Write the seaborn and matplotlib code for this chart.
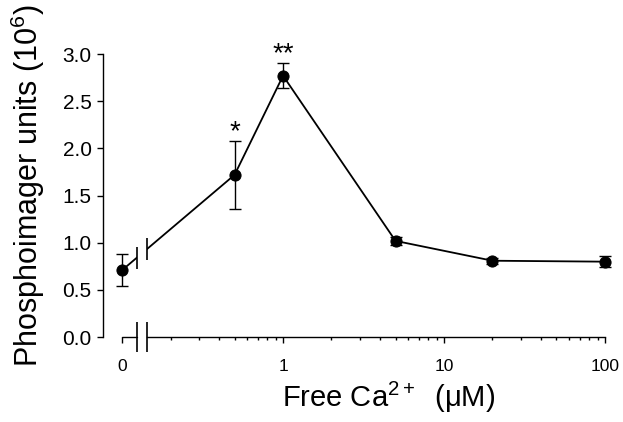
import numpy as np
import pandas as pd
import seaborn as sns
import matplotlib.pyplot as plt
from matplotlib.ticker import FixedLocator, LogLocator, NullFormatter, FormatStrFormatter

# free Ca2+ (uM); the 0 point is drawn at the left end of the log axis
ca_um = [0, 0.5, 1, 5, 20, 100]
units = [0.71, 1.72, 2.77, 1.02, 0.81, 0.80]   # phosphoimager units (10^6)
sem = [0.17, 0.36, 0.13, 0.04, 0.03, 0.06]
stars = ["", "*", "**", "", "", ""]

x_ticks = [0.1, 1, 10, 100]
x_ticklabels = ["0", "1", "10", "100"]
y_ticks = [0.0, 0.5, 1.0, 1.5, 2.0, 2.5, 3.0]

zero_pos = 0.1            # where "0" sits on the log axis
break_lo, break_hi = 0.123, 0.142

sns.set_style("ticks", {"text.color": "black", "axes.labelcolor": "black",
                        "xtick.color": "black", "ytick.color": "black"})
plt.rcParams["font.family"] = ["Liberation Sans", "DejaVu Sans"]
plt.rcParams["mathtext.fontset"] = "custom"
plt.rcParams["mathtext.rm"] = "Liberation Sans"
plt.rcParams["mathtext.it"] = "Liberation Sans:italic"

df = pd.DataFrame({"ca": ca_um, "units": units, "sem": sem, "star": stars})
df["x"] = np.where(df["ca"] == 0, zero_pos, df["ca"])

fig = plt.figure(figsize=(6.23, 4.22), dpi=100)
ax = fig.add_axes([0.196, 0.201, 0.775, 0.671])
ax.set_xscale("log")

sns.lineplot(data=df, x="x", y="units", color="black", lw=1.3, marker="o",
             markersize=8, markeredgecolor="black", ax=ax, zorder=2)
eb = ax.errorbar(df["x"], df["units"], yerr=df["sem"], fmt="none", ecolor="black",
                 elinewidth=1, capsize=4.5, capthick=1, zorder=2)
for ln in ax.lines:
    ln.set_clip_on(False)
for art in eb.lines[1] + eb.lines[2]:
    art.set_clip_on(False)

# break in the data line
ax.axvspan(break_lo, break_hi, color="white", lw=0, zorder=2.5)
yb = np.interp(np.log10([break_lo, break_hi]), np.log10(df["x"][:2]), df["units"][:2])
ax.plot([break_lo, break_hi], yb, ls="none", marker="|", ms=16, mew=1.2,
        color="black", zorder=3)

# break in the x axis
ax.spines["bottom"].set_bounds(break_hi, 100)
ax.plot([zero_pos, break_lo], [0, 0], color="black", lw=1, clip_on=False, zorder=3)
ax.plot([break_lo, break_hi], [0, 0], ls="none", marker="|", ms=21, mew=1.2,
        color="black", clip_on=False, zorder=3)

for _, r in df.iterrows():
    if r["star"]:
        ax.annotate(r["star"], (r["x"], r["units"] + r["sem"]), xytext=(0, -3),
                    textcoords="offset points", ha="center", va="bottom",
                    fontsize=20, annotation_clip=False)

ax.set_xlim(zero_pos, 100)
ax.set_ylim(0, 3.0)
ax.xaxis.set_major_locator(FixedLocator(x_ticks))
ax.set_xticklabels(x_ticklabels)
ax.xaxis.set_minor_locator(LogLocator(subs=np.arange(2, 10)))
ax.xaxis.set_minor_formatter(NullFormatter())
ax.set_yticks(y_ticks)
ax.yaxis.set_major_formatter(FormatStrFormatter("%.1f"))

sns.despine(ax=ax)
ax.spines["left"].set_position(("outward", 14))
for s in ["left", "bottom"]:
    ax.spines[s].set_linewidth(1)
    ax.spines[s].set_color("black")
ax.tick_params(which="major", length=4, width=1, color="black")
ax.tick_params(axis="y", labelsize=15, pad=4)
ax.tick_params(axis="x", labelsize=12.5, pad=12)
ax.tick_params(axis="x", which="minor", length=2.5, width=1, color="black")

ax.set_ylabel("Phosphoimager units (10$^6$)", fontsize=22)
ax.set_xlabel("Free Ca$^{2+}$  (μM)", fontsize=21)
ax.yaxis.set_label_coords(-0.155, 0.534)
ax.xaxis.set_label_coords(0.553, -0.15)

fig.savefig("out.png", dpi=100)
